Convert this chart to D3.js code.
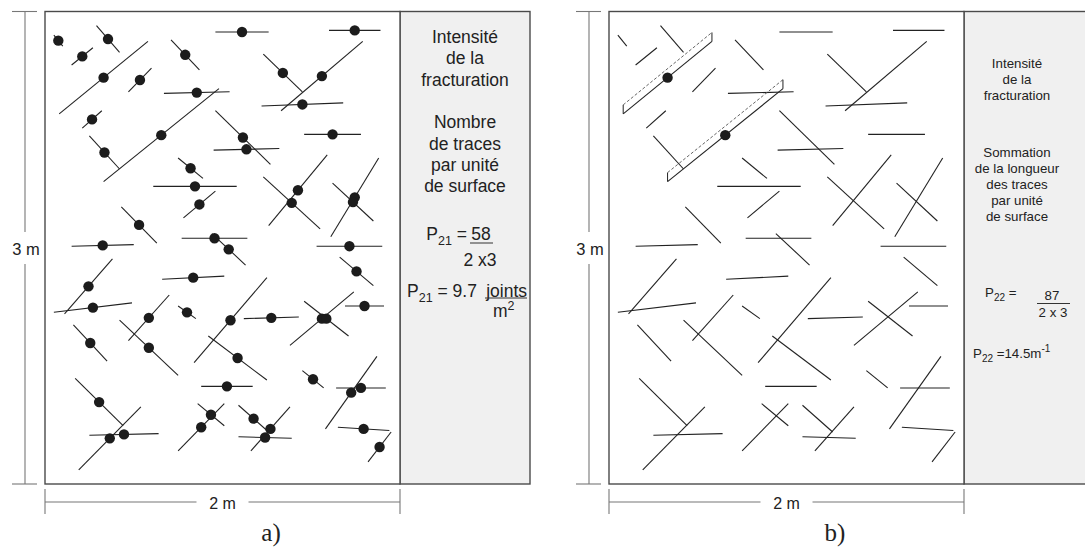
<!DOCTYPE html>
<html>
<head>
<meta charset="utf-8">
<script src="https://cdn.jsdelivr.net/npm/d3@7"></script>
<style>
  body { margin: 0; background: #fff; }
  svg text { font-family: "Liberation Sans", Arial, sans-serif; fill: #222; }
  .frame { fill: #fff; stroke: #4a4a4a; stroke-width: 1.4; }
  .side { fill: #f0f0f0; stroke: #4a4a4a; stroke-width: 1.4; }
  .trace { stroke: #222; stroke-width: 1.1; stroke-linecap: butt; }
  .dot { fill: #1c1c1c; }
  .dim { stroke: #777; stroke-width: 1.1; fill: none; }
  .window { stroke: #222; stroke-width: 1; fill: none; }
  .window-dash { stroke: #666; stroke-width: 1; stroke-dasharray: 3,2; fill: none; }
  .bar { stroke: #333; stroke-width: 1; }
  .panel-label { font-family: "Liberation Serif", "Times New Roman", serif; font-size: 25px; }
</style>
</head>
<body>
<div id="figure"></div>
<script>
// Fracture traces, metres: [x1, y1, x2, y2], origin bottom-left of the 2 m x 3 m window
var traces = [
  [0.05, 2.85, 0.10, 2.78],
  [0.29, 2.91, 0.42, 2.74],
  [0.15, 2.66, 0.27, 2.77],
  [0.08, 2.35, 0.58, 2.81],
  [0.47, 2.49, 0.60, 2.64],
  [0.71, 2.82, 0.87, 2.63],
  [0.21, 2.26, 0.32, 2.37],
  [0.25, 2.21, 0.42, 2.00],
  [0.33, 1.92, 0.98, 2.51],
  [0.67, 2.48, 1.04, 2.49],
  [0.96, 2.37, 1.27, 2.03],
  [0.95, 2.12, 1.32, 2.13],
  [0.75, 2.07, 0.89, 1.94],
  [0.61, 1.89, 1.08, 1.89],
  [0.78, 1.69, 0.96, 1.86],
  [0.43, 1.76, 0.63, 1.53],
  [0.15, 1.51, 0.50, 1.52],
  [0.77, 1.56, 1.14, 1.56],
  [0.94, 1.59, 1.13, 1.39],
  [0.96, 2.87, 1.26, 2.87],
  [1.60, 2.88, 1.89, 2.88],
  [1.23, 2.73, 1.45, 2.49],
  [1.33, 2.37, 1.79, 2.81],
  [1.22, 2.40, 1.68, 2.42],
  [1.46, 2.22, 1.78, 2.22],
  [1.26, 1.64, 1.59, 2.09],
  [1.23, 1.95, 1.55, 1.62],
  [1.61, 1.57, 1.88, 2.07],
  [1.62, 1.91, 1.85, 1.67],
  [1.53, 1.51, 1.90, 1.51],
  [0.11, 1.08, 0.38, 1.43],
  [0.05, 1.09, 0.49, 1.15],
  [0.66, 1.30, 1.01, 1.32],
  [0.16, 1.01, 0.35, 0.78],
  [0.47, 0.91, 0.70, 1.20],
  [0.42, 1.04, 0.75, 0.69],
  [0.75, 1.13, 0.85, 1.05],
  [0.84, 0.77, 1.25, 1.31],
  [0.92, 0.94, 1.25, 0.66],
  [0.88, 0.62, 1.17, 0.62],
  [0.17, 0.67, 0.44, 0.37],
  [0.19, 0.09, 0.54, 0.49],
  [0.25, 0.31, 0.64, 0.32],
  [0.75, 0.21, 1.01, 0.51],
  [0.86, 0.51, 1.01, 0.37],
  [1.66, 1.44, 1.85, 1.26],
  [1.12, 1.05, 1.43, 1.06],
  [1.38, 0.88, 1.74, 1.22],
  [1.46, 1.16, 1.71, 0.94],
  [1.69, 1.13, 1.91, 1.13],
  [1.45, 0.72, 1.57, 0.61],
  [1.64, 0.61, 1.92, 0.61],
  [1.58, 0.35, 1.87, 0.81],
  [1.09, 0.50, 1.26, 0.33],
  [1.16, 0.21, 1.38, 0.49],
  [1.09, 0.30, 1.39, 0.29],
  [1.65, 0.36, 1.94, 0.34],
  [1.82, 0.14, 1.95, 0.33]
];

// traces picked out with a sampling window in panel b
var sampledTraces = [3, 8];

var windowSize = [2, 3];   // metres
var sideTextA = ["Intensité", "de la", "fracturation", "", "Nombre", "de traces", "par unité", "de surface"];
var sideTextB1 = ["Intensité", "de la", "fracturation"];
var sideTextB2 = ["Sommation", "de la longueur", "des traces", "par unité", "de surface"];

var W = 1085, H = 550;
var boxTop = 11.5, boxBottom = 484, boxW = 355;

var svg = d3.select("#figure").append("svg")
  .attr("width", W)
  .attr("height", H);

var mid = function(d) { return [(d[0] + d[2]) / 2, (d[1] + d[3]) / 2]; };

var drawPanel = function(cfg) {
  var g = svg.append("g").attr("class", "panel");

  var x = d3.scaleLinear().domain([0, windowSize[0]]).range([cfg.left, cfg.left + boxW]);
  var y = d3.scaleLinear().domain([0, windowSize[1]]).range([boxBottom, boxTop]);

  // side box
  g.append("rect")
    .attr("class", "side")
    .attr("x", x(windowSize[0]))
    .attr("y", boxTop)
    .attr("width", cfg.sideW)
    .attr("height", boxBottom - boxTop);

  // main window
  g.append("rect")
    .attr("class", "frame")
    .attr("x", x(0))
    .attr("y", boxTop)
    .attr("width", boxW)
    .attr("height", boxBottom - boxTop);

  // traces
  g.append("g")
    .selectAll("line")
    .data(traces)
    .enter()
    .append("line")
    .attr("class", "trace")
    .attr("x1", d => x(d[0]))
    .attr("y1", d => y(d[1]))
    .attr("x2", d => x(d[2]))
    .attr("y2", d => y(d[3]));

  // sampling windows (dashed band above the trace)
  if (cfg.windows) {
    var off = 9;
    var wins = g.append("g");
    sampledTraces.forEach(function(i) {
      var d = traces[i];
      wins.append("line").attr("class", "window-dash")
        .attr("x1", x(d[0])).attr("y1", y(d[1]) - off)
        .attr("x2", x(d[2])).attr("y2", y(d[3]) - off);
      wins.append("line").attr("class", "window")
        .attr("x1", x(d[0])).attr("y1", y(d[1]))
        .attr("x2", x(d[0])).attr("y2", y(d[1]) - off);
      wins.append("line").attr("class", "window")
        .attr("x1", x(d[2])).attr("y1", y(d[3]))
        .attr("x2", x(d[2])).attr("y2", y(d[3]) - off);
    });
  }

  // trace centres
  var dotData = cfg.allDots ? traces : sampledTraces.map(i => traces[i]);
  g.append("g")
    .selectAll("circle")
    .data(dotData)
    .enter()
    .append("circle")
    .attr("class", "dot")
    .attr("cx", d => x(mid(d)[0]))
    .attr("cy", d => y(mid(d)[1]))
    .attr("r", 5.2);

  // vertical dimension: 3 m
  var vx = cfg.left - 20;
  g.append("line").attr("class", "dim").attr("x1", cfg.left - 33).attr("x2", cfg.left - 8).attr("y1", boxTop).attr("y2", boxTop);
  g.append("line").attr("class", "dim").attr("x1", cfg.left - 33).attr("x2", cfg.left - 8).attr("y1", boxBottom).attr("y2", boxBottom);
  g.append("line").attr("class", "dim").attr("x1", vx).attr("x2", vx).attr("y1", boxTop).attr("y2", 232);
  g.append("line").attr("class", "dim").attr("x1", vx).attr("x2", vx).attr("y1", 264).attr("y2", boxBottom);
  g.append("text")
    .attr("x", cfg.left - 19)
    .attr("y", 255)
    .attr("text-anchor", "middle")
    .style("font-size", "16.5px")
    .text(windowSize[1] + " m");

  // horizontal dimension: 2 m
  var hy = 502, hc = cfg.left + boxW / 2;
  g.append("line").attr("class", "dim").attr("x1", x(0)).attr("x2", x(0)).attr("y1", 489).attr("y2", 514);
  g.append("line").attr("class", "dim").attr("x1", x(windowSize[0])).attr("x2", x(windowSize[0])).attr("y1", 489).attr("y2", 514);
  g.append("line").attr("class", "dim").attr("x1", x(0)).attr("x2", hc - 26).attr("y1", hy).attr("y2", hy);
  g.append("line").attr("class", "dim").attr("x1", hc + 26).attr("x2", x(windowSize[0])).attr("y1", hy).attr("y2", hy);
  g.append("text")
    .attr("x", hc)
    .attr("y", 508.5)
    .attr("text-anchor", "middle")
    .style("font-size", "16px")
    .text(windowSize[0] + " m");

  g.append("text")
    .attr("class", "panel-label")
    .attr("x", cfg.left + 226)
    .attr("y", 541)
    .attr("text-anchor", "middle")
    .text(cfg.label);

  return g;
};

var writeLines = function(g, lines, cx, y0, step, size) {
  g.append("g")
    .selectAll("text")
    .data(lines)
    .enter()
    .append("text")
    .attr("x", cx)
    .attr("y", (d, i) => y0 + i * step)
    .attr("text-anchor", "middle")
    .style("font-size", size + "px")
    .text(d => d);
};

// Panel a
var gA = drawPanel({ left: 45, sideW: 130, label: "a)", allDots: true, windows: false });
writeLines(gA, sideTextA, 465, 43, 21.3, 17.5);

var pA = gA.append("text").attr("x", 467).attr("y", 240).attr("text-anchor", "end").style("font-size", "17.5px");
pA.append("tspan").text("P");
pA.append("tspan").attr("dy", 5).style("font-size", "12.5px").text("21");
pA.append("tspan").attr("dy", -5).text(" =");
gA.append("text").attr("x", 481).attr("y", 240).attr("text-anchor", "middle").style("font-size", "17.5px").text("58");
gA.append("line").attr("class", "bar").attr("x1", 470).attr("x2", 493).attr("y1", 243).attr("y2", 243);
gA.append("text").attr("x", 480).attr("y", 266).attr("text-anchor", "middle").style("font-size", "17.5px").text("2 x3");

var pA2 = gA.append("text").attr("x", 407).attr("y", 296.5).style("font-size", "17.5px");
pA2.append("tspan").text("P");
pA2.append("tspan").attr("dy", 5).style("font-size", "12.5px").text("21");
pA2.append("tspan").attr("dy", -5).text(" = 9.7");
gA.append("text").attr("x", 527).attr("y", 296.5).attr("text-anchor", "end").style("font-size", "17.5px").text("joints");
gA.append("line").attr("class", "bar").attr("x1", 485).attr("x2", 527).attr("y1", 298).attr("y2", 298);
var mA = gA.append("text").attr("x", 493).attr("y", 317).style("font-size", "17.5px");
mA.append("tspan").text("m");
mA.append("tspan").attr("dy", -7).style("font-size", "12.5px").text("2");

// Panel b
var gB = drawPanel({ left: 609, sideW: 130, label: "b)", allDots: false, windows: true });
writeLines(gB, sideTextB1, 1017, 68, 16, 13.3);
writeLines(gB, sideTextB2, 1017, 157, 16, 13.3);

var pB = gB.append("text").attr("x", 985).attr("y", 297).style("font-size", "13.3px");
pB.append("tspan").text("P");
pB.append("tspan").attr("dy", 4).style("font-size", "10px").text("22");
pB.append("tspan").attr("dy", -4).text(" =");
gB.append("text").attr("x", 1052).attr("y", 300).attr("text-anchor", "middle").style("font-size", "13.3px").text("87");
gB.append("line").attr("class", "bar").attr("x1", 1037).attr("x2", 1070).attr("y1", 303.5).attr("y2", 303.5);
gB.append("text").attr("x", 1053).attr("y", 317).attr("text-anchor", "middle").style("font-size", "13.3px").text("2 x 3");

var pB2 = gB.append("text").attr("x", 973).attr("y", 358).style("font-size", "13.3px");
pB2.append("tspan").text("P");
pB2.append("tspan").attr("dy", 4).style("font-size", "10px").text("22");
pB2.append("tspan").attr("dy", -4).text(" =14.5m");
pB2.append("tspan").attr("dy", -6).style("font-size", "10px").text("-1");
</script>
</body>
</html>
